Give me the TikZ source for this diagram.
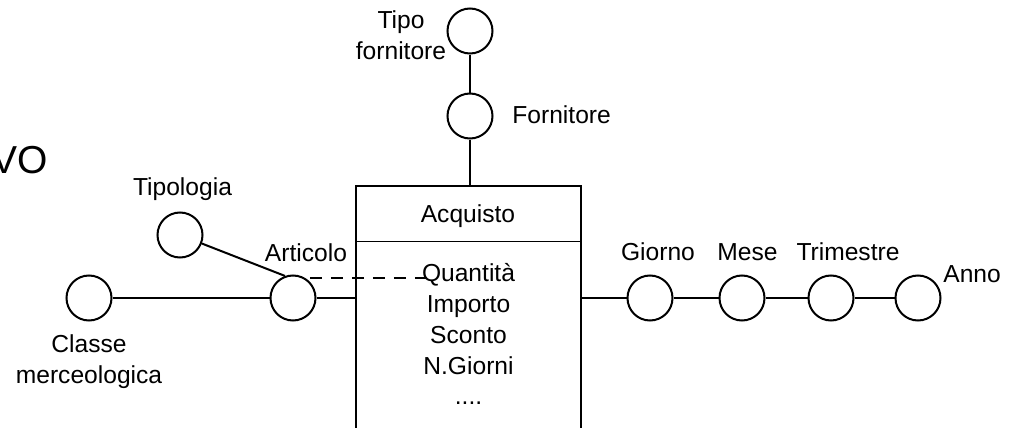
\documentclass[tikz,border=0pt]{standalone}
\usepackage{fontspec}
\setmainfont{Liberation Sans}
\usepackage{tikz}
\usetikzlibrary{positioning,calc}
\newcommand{\puntini}{....}

\begin{document}
\begin{tikzpicture}[x=0.5pt,y=-0.5pt,
    attr/.style={draw,circle,line width=1pt,minimum size=22.5pt,inner sep=0pt},
    lbl/.style={inner sep=0pt,font=\fontsize{12.3}{15.4}\selectfont},
    fatto/.style={draw,rectangle,line width=0.7pt,minimum width=112.5pt,minimum height=127pt,inner sep=0pt},
    link/.style={line width=1pt}]
      \path[use as bounding box,clip] (0,0) rectangle (1014,428);

      % titolo tagliato
      \node[lbl,anchor=base east,font=\fontsize{19.5}{22}\selectfont] (titolo) at (48,173) {VO};

      % fatto
      \node[fatto] (acq) at (468.5,313) {};
      \draw[line width=0.7pt] ([yshift=-28pt]acq.north west) -- ([yshift=-28pt]acq.north east);
      \node[lbl,anchor=base] (acq-l) at (468,222) {Acquisto};
      \foreach \m [count=\i] in {Quantità,Importo,Sconto,N.Giorni,\puntini}
        \node[lbl,anchor=base] (m\i) at (468.5,250.9+30.8*\i) {\m};

      % gerarchia fornitore
      \node[attr] (tforn) at (470,31) {};
      \node[attr] (forn) at (470,116) {};
      \node[lbl,align=center,anchor=north] (tforn-l) at (401,10.5) {Tipo\\fornitore};
      \node[lbl,anchor=base west] (forn-l) at (512,123) {Fornitore};
      \draw[link] (tforn) -- (forn);
      \draw[link] (forn) -- (forn |- acq.north);

      % gerarchia articolo
      \node[attr] (art) at (293,298) {};
      \node[attr] (tip) at (180,235) {};
      \node[attr] (cls) at (89,298) {};
      \node[lbl,anchor=base] (art-l) at (306,261.5) {Articolo};
      \node[lbl,anchor=base] (tip-l) at (182.5,195) {Tipologia};
      \node[lbl,align=center,anchor=north] (cls-l) at (89,334.4) {Classe\\merceologica};
      \draw[link] (tip) -- (art.110);
      \draw[link] (cls) -- (art);
      \draw[link] (art) -- ([xshift=1pt]acq.west |- art);
      \draw[link,dash pattern=on 6pt off 4.5pt] ($(art.60)+(5,0)$) -- ($(m1.west |- art.60)+(5,0)$);

      % gerarchia tempo
      \node[attr] (gio) at (650,298) {};
      \node[attr] (mes) at (742,298) {};
      \node[attr] (tri) at (831,298) {};
      \node[attr] (ann) at (918,298) {};
      \node[lbl,anchor=base] (gio-l) at (658,260.5) {Giorno};
      \node[lbl,anchor=base] (mes-l) at (747.5,260.5) {Mese};
      \node[lbl,anchor=base] (tri-l) at (848,260.5) {Trimestre};
      \node[lbl,anchor=base west] (ann-l) at (943,282) {Anno};
      \draw[link] (acq.east |- gio) -- (gio);
      \draw[link] (gio) -- (mes);
      \draw[link] (mes) -- (tri);
      \draw[link] (tri) -- (ann);
\end{tikzpicture}
\end{document}
